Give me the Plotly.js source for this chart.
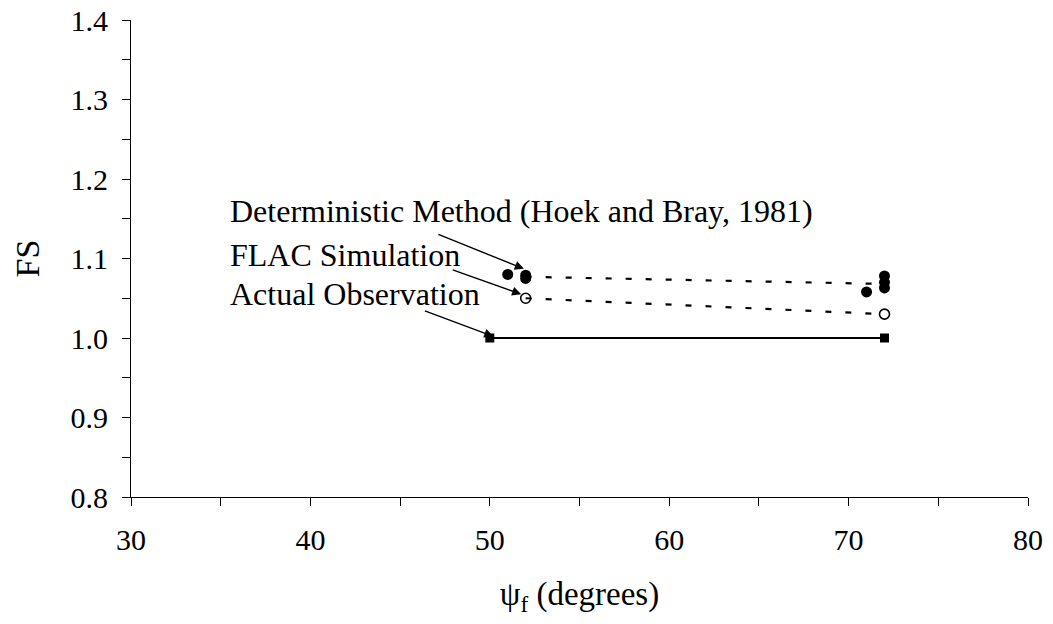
<!DOCTYPE html>
<html>
<head>
<meta charset="utf-8">
<script src="https://cdn.plot.ly/plotly-3.0.1.min.js"></script>
<style>
  html, body { margin: 0; padding: 0; background: #fff; }
  #chart { width: 1053px; height: 624px; }
</style>
</head>
<body>
<div id="chart"></div>
<script>
// Deterministic method (Hoek and Bray, 1981): individual FS values
const detX = [51, 52, 52, 71, 72, 72, 72];
const detY = [1.08, 1.079, 1.075, 1.058, 1.078, 1.07, 1.063];
// Deterministic trend (dashed)
const detLineX = [52, 72];
const detLineY = [1.077, 1.068];

// FLAC simulation
const flacX = [52, 72];
const flacY = [1.05, 1.03];

// Actual observation
const obsX = [50, 72];
const obsY = [1.0, 1.0];

const font = 'Liberation Serif, Times New Roman, serif';

const traces = [
  {
    x: detLineX, y: detLineY, mode: 'lines', type: 'scatter',
    line: { color: '#000', width: 2.2, dash: '6px,14px' }, hoverinfo: 'skip'
  },
  {
    x: detX, y: detY, mode: 'markers', type: 'scatter',
    marker: { symbol: 'circle', size: 11, color: '#000' }
  },
  {
    x: flacX, y: flacY, mode: 'lines+markers', type: 'scatter',
    line: { color: '#000', width: 2.2, dash: '6px,14px' },
    marker: { symbol: 'circle-open', size: 10, color: '#000', line: { width: 1.6, color: '#000' } }
  },
  {
    x: obsX, y: obsY, mode: 'lines+markers', type: 'scatter',
    line: { color: '#000', width: 2.2 },
    marker: { symbol: 'square', size: 9, color: '#000' }
  }
];

const labels = [
  { text: 'Deterministic Method (Hoek and Bray, 1981)', x: 35.4, y: 1.16 },
  { text: 'FLAC Simulation', x: 35.4, y: 1.105 },
  { text: 'Actual Observation', x: 35.4, y: 1.055 }
];

const arrows = [
  { x: 51.9, y: 1.087, ax: -87, ay: -35 },
  { x: 51.75, y: 1.055, ax: -70, ay: -25 },
  { x: 50.2, y: 1.002, ax: -70, ay: -26 }
];

const annotations = labels.map(l => ({
  x: l.x, y: l.y, xref: 'x', yref: 'y', text: l.text, showarrow: false,
  xanchor: 'left', yanchor: 'middle', font: { family: font, size: 32, color: '#000' }
})).concat(arrows.map(a => ({
  x: a.x, y: a.y, xref: 'x', yref: 'y', text: '', showarrow: true,
  ax: a.ax, ay: a.ay, arrowhead: 2, arrowsize: 1.3, arrowwidth: 1.4, arrowcolor: '#000'
})));

const layout = {
  width: 1053, height: 624,
  margin: { l: 131, r: 25, t: 20, b: 127 },
  paper_bgcolor: '#fff', plot_bgcolor: '#fff',
  showlegend: false,
  font: { family: font, size: 30, color: '#000' },
  xaxis: {
    range: [30, 80], dtick: 10, tick0: 30,
    showgrid: false, zeroline: false,
    showline: true, linecolor: '#000', linewidth: 1,
    ticks: 'outside', ticklen: 8, tickcolor: '#000',
    minor: { dtick: 5, ticks: 'outside', ticklen: 8, tickcolor: '#000', showgrid: false },
    tickfont: { family: font, size: 30 },
    ticklabelstandoff: 8,
    title: { text: 'ψ<sub>f</sub> (degrees)', font: { family: font, size: 33 }, standoff: 26 }
  },
  yaxis: {
    range: [0.8, 1.4], dtick: 0.1, tick0: 0.8, tickformat: '.1f',
    showgrid: false, zeroline: false,
    showline: true, linecolor: '#000', linewidth: 1,
    ticks: 'outside', ticklen: 8, tickcolor: '#000',
    minor: { dtick: 0.05, ticks: 'outside', ticklen: 8, tickcolor: '#000', showgrid: false },
    tickfont: { family: font, size: 30 },
    ticklabelstandoff: 8,
    title: { text: 'FS', font: { family: font, size: 34 }, standoff: 20 }
  },
  annotations: annotations
};

Plotly.newPlot('chart', traces, layout, { displayModeBar: false, staticPlot: true });
</script>
</body>
</html>
